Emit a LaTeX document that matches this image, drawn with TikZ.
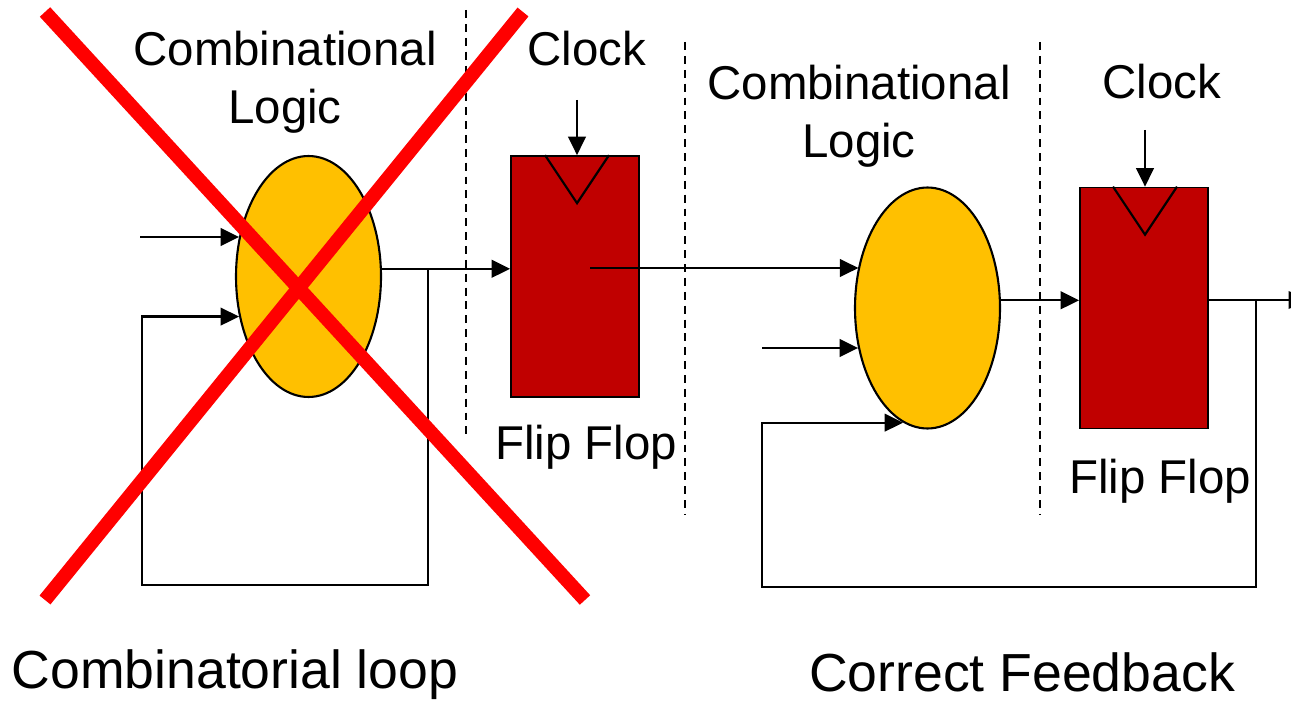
\documentclass[tikz,border=0pt]{standalone}
\usepackage{fontspec}
\setmainfont{Liberation Sans}
\usetikzlibrary{shapes.geometric,arrows.meta,calc}
\definecolor{gold}{HTML}{FFC000}
\definecolor{ffred}{HTML}{C00000}
\definecolor{xred}{HTML}{FF0000}
\begin{document}
\begin{tikzpicture}[x=0.02cm,y=-0.02cm,
  wire/.style={line width=1.25pt},
  arr/.style={wire,-{Triangle[length=10.5pt,width=10pt]}},
  logic/.style={ellipse,draw,line width=1.2pt,fill=gold,minimum width=2.9cm,minimum height=4.82cm,inner sep=0},
  flop/.style={rectangle,draw,line width=1pt,fill=ffred,minimum width=2.56cm,minimum height=4.82cm,inner sep=0},
  lbl/.style={font=\fontsize{27}{33}\selectfont,align=center,inner sep=0},
  big/.style={font=\fontsize{30.5}{36}\selectfont,inner sep=0},
  sep/.style={line width=1pt,dash pattern=on 4.5pt off 3.4pt},
  cross/.style={xred,line width=8pt}]
\useasboundingbox[fill=white] (0,0) rectangle (1291,702);

% dashed separators
\draw[sep] (466,10) -- (466,440);
\draw[sep] (685,42) -- (685,515);
\draw[sep] (1040,42) -- (1040,515);

% blocks
\node[logic] (L1) at (308.5,276.5) {};
\node[flop] (F1) at (575,276.5) {};
\node[logic] (L2) at (927.5,308) {};
\node[flop] (F2) at (1144,308) {};

% clock triangles
\draw[wire] ($(F1.north)+(-30,0)$) -- ($(F1.north)+(2,48)$) -- ($(F1.north)+(34,0)$);
\draw[wire] ($(F2.north)+(-31,0)$) -- ($(F2.north)+(1,48)$) -- ($(F2.north)+(33,0)$);

% labels
\node[lbl] (t1) at (285,82) {Combinational\\Logic};
\node[lbl] (t2) at (587,49) {Clock};
\node[lbl] (t3) at (859,116) {Combinational\\Logic};
\node[lbl] (t4) at (1162,82) {Clock};
\node[lbl] (t5) at (586,447) {Flip Flop};
\node[lbl] (t6) at (1160,481) {Flip Flop};
\node[big] (t7) at (235,675) {Combinatorial loop};
\node[big] (t8) at (1022,672) {Correct Feedback};

% coordinates for free ends
\coordinate (c1) at (577,100);
\coordinate (c2) at (1145,130);
\coordinate (i1) at (140,237);
\coordinate (fb1) at (428,585);
\coordinate (fb1b) at (142,585);
\coordinate (o1) at (590,268);
\coordinate (i3) at (762,348);
\coordinate (fb2) at (1256,587);
\coordinate (fb2b) at (762,587);
\coordinate (out) at (1307,300);

% clock arrows
\draw[arr] (c1) -- (c1 |- F1.north);
\draw[arr] (c2) -- (c2 |- F2.north);

% left circuit
\draw[arr] (i1) -- (i1 -| L1.150);
\draw[arr] (L1.6.7) -- (L1.6.7 -| F1.west);
\draw[arr] (fb1 |- L1.6.7) -- (fb1) -- (fb1b) -- (fb1b |- L1.210) -- (L1.210);

% right circuit
\draw[arr] (o1) -- (o1 -| L2.149.35);
\draw[arr] (i3) -- (i3 -| L2.210.65);
\draw[arr] (L2.6.4) -- (L2.6.4 -| F2.west);
\draw[arr] (F2.east |- out) -- (out);
\draw[arr] (fb2 |- out) -- (fb2) -- (fb2b) -- (fb2b |- L2.258.5) -- (L2.258.5);

% red cross
\draw[cross] (45,12) -- (585,600);
\draw[cross] (523,12) -- (45,600);
\end{tikzpicture}
\end{document}
